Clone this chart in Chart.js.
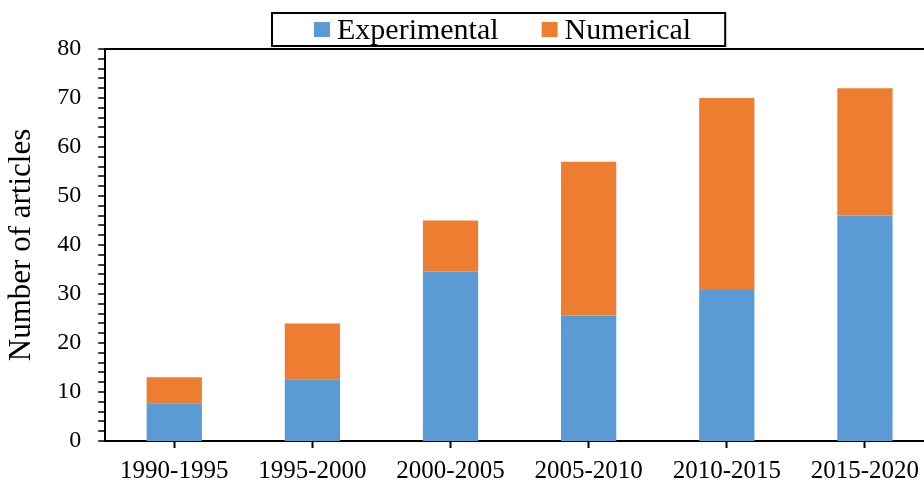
<!DOCTYPE html>
<html>
<head>
<title>Number of articles</title>
<script src="https://cdn.jsdelivr.net/npm/chart.js@4.4.0/dist/chart.umd.min.js"></script>
<style>
  html, body { margin: 0; padding: 0; background: #fff; overflow: hidden; }
  #wrap { position: relative; width: 934px; height: 480px; }
</style>
</head>
<body>
<div id="wrap"><canvas id="myChart"></canvas></div>
<script>
// data
const periods = ['1990-1995', '1995-2000', '2000-2005', '2005-2010', '2010-2015', '2015-2020'];
const experimental = [7.7, 12.6, 34.6, 25.6, 30.8, 46];
const numerical = [5.3, 11.4, 10.4, 31.4, 39.2, 26];
const yMax = 80;

const serif = "'Liberation Serif', 'Times New Roman', serif";

// legend in a frame above the plot (labels and colours come from the datasets)
const framedLegend = {
  id: 'framedLegend',
  afterDraw(chart) {
    const ctx = chart.ctx;
    const sets = chart.data.datasets;
    ctx.save();
    ctx.font = '30px ' + serif;
    ctx.textBaseline = 'middle';
    let x = 314;
    const startX = x;
    sets.forEach((ds, i) => {
      ctx.fillStyle = ds.backgroundColor;
      ctx.fillRect(x, 22, 16, 15);
      x += 16 + 7;
      ctx.fillStyle = '#000';
      ctx.fillText(ds.label, x, 31);
      x += ctx.measureText(ds.label).width;
      if (i < sets.length - 1) x += 43;
    });
    ctx.strokeStyle = '#000';
    ctx.lineWidth = 2;
    ctx.strokeRect(startX - 42, 13, (x + 34) - (startX - 42), 33);
    ctx.restore();
  }
};

var ctx = document.getElementById('myChart').getContext('2d');
var chart = new Chart(ctx, {
  type: 'bar',
  data: {
    labels: periods,
    datasets: [{
      label: 'Experimental',
      data: experimental,
      backgroundColor: '#5B9BD5',
      borderWidth: 0
    }, {
      label: 'Numerical',
      data: numerical,
      backgroundColor: '#ED7D31',
      borderWidth: 0
    }]
  },
  options: {
    responsive: true,
    maintainAspectRatio: false,
    animation: false,
    layout: { padding: { left: -1, right: 0, top: 49, bottom: -14 } },
    datasets: { bar: { barPercentage: 0.4, categoryPercentage: 1 } },
    plugins: {
      legend: { display: false },
      tooltip: { enabled: false }
    },
    scales: {
      x: {
        stacked: true,
        grid: { display: true, drawOnChartArea: false, offset: false, tickLength: 7, tickColor: '#000', tickWidth: 2 },
        border: { color: '#000', width: 2 },
        ticks: { color: '#000', font: { family: serif, size: 25 }, maxRotation: 0, padding: 8 }
      },
      y: {
        stacked: true,
        min: 0,
        max: yMax,
        grid: {
          drawOnChartArea: true,
          color: c => c.tick && c.tick.value === yMax ? '#000' : 'rgba(0,0,0,0)',
          lineWidth: c => c.tick && c.tick.value === yMax ? 2 : 0,
          tickColor: '#000',
          tickWidth: 1.5,
          tickLength: 7
        },
        border: { color: '#000', width: 2 },
        ticks: {
          stepSize: 2,
          autoSkip: false,
          color: '#000',
          font: { family: serif, size: 24 },
          padding: 17,
          callback: v => v % 10 === 0 ? v : ''
        },
        title: {
          display: true,
          text: 'Number of articles',
          color: '#000',
          font: { family: serif, size: 31 },
          padding: { top: 4, bottom: 0 }
        }
      }
    }
  },
  plugins: [framedLegend]
});
</script>
</body>
</html>
